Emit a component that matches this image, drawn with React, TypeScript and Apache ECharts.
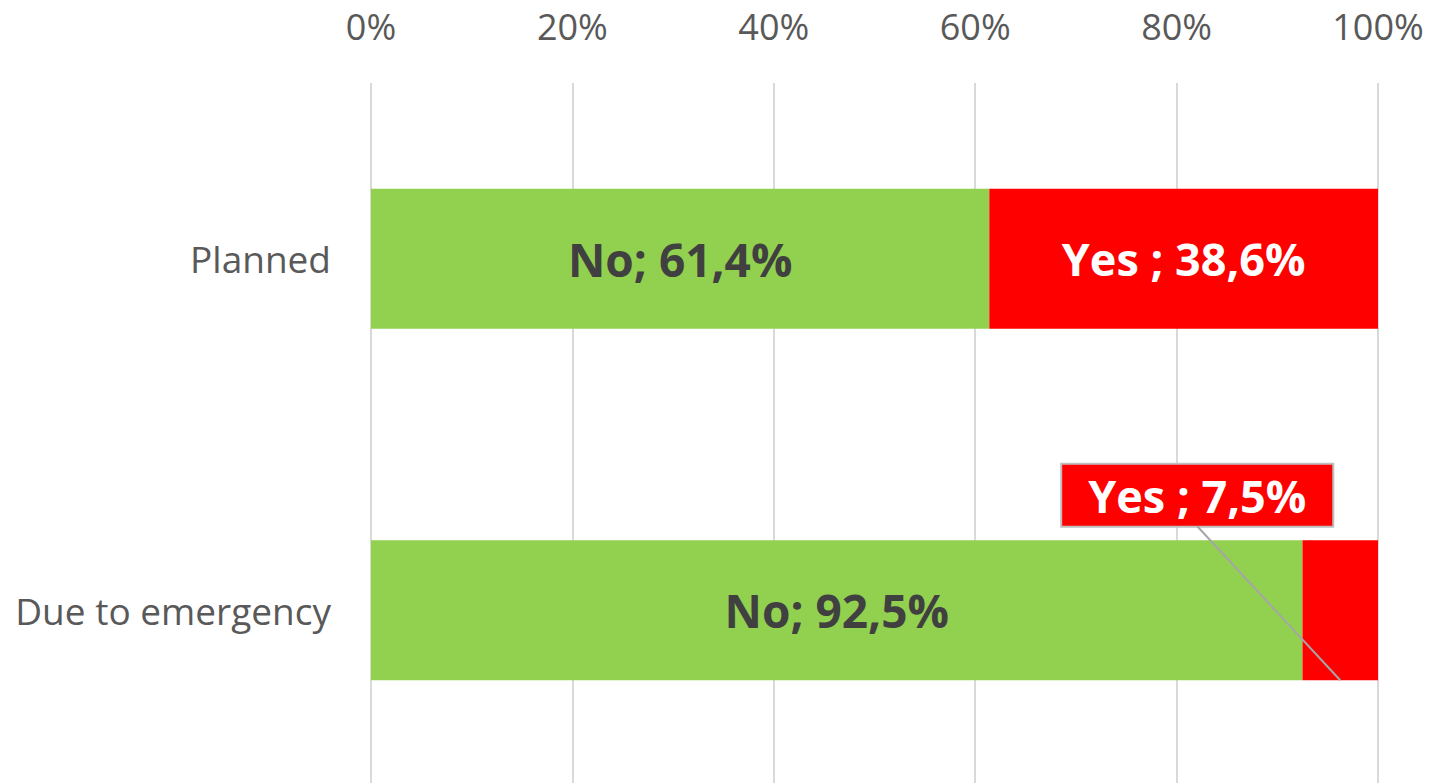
import React, { useEffect, useRef } from "react";
import * as echarts from "echarts";

const categories = ["Planned", "Due to emergency"];
const noValues = [61.4, 92.5];
const yesValues = [38.6, 7.5];
const xTicks = [0, 20, 40, 60, 80, 100];

const fmt = (v: number) => v.toFixed(1).replace(".", ",");

export default function App() {
  const ref = useRef<HTMLDivElement>(null);
  useEffect(() => {
    if (!ref.current) return;
    const chart = echarts.init(ref.current, undefined, { renderer: "svg" });
    const font = "'Open Sans', sans-serif";
    const option: any = {
      animation: false,
      grid: { left: 371, right: 63, top: 83, height: 703, containLabel: false },
      xAxis: {
        type: "value",
        position: "top",
        min: xTicks[0],
        max: xTicks[xTicks.length - 1],
        interval: 20,
        axisLine: { show: false },
        axisTick: { show: false },
        splitLine: { show: true, lineStyle: { color: "#d9d9d9", width: 2 } },
        axisLabel: {
          formatter: (v: number) => v + "%",
          color: "#595959",
          fontSize: 36,
          fontFamily: font,
          margin: 39,
        },
      },
      yAxis: {
        type: "category",
        data: categories,
        inverse: true,
        axisLine: { show: false },
        axisTick: { show: false },
        axisLabel: { color: "#595959", fontSize: 37, fontFamily: font, margin: 40 },
      },
      series: [
        {
          name: "No",
          type: "bar",
          stack: "total",
          barWidth: 140,
          itemStyle: { color: "#92D050" },
          label: {
            show: true,
            position: "inside",
            formatter: (p: any) => "No; " + fmt(p.value) + "%",
            color: "#404040",
            fontWeight: "bold",
            fontSize: 46,
            fontFamily: font,
          },
          data: noValues,
        },
        {
          name: "Yes",
          type: "bar",
          stack: "total",
          barWidth: 140,
          itemStyle: { color: "#FF0000" },
          data: yesValues.map((v, i) =>
            i === 1
              ? {
                  value: v,
                  label: {
                    show: true,
                    position: "inside",
                    offset: [-143, -115],
                    formatter: (p: any) => "Yes ; " + fmt(p.value) + "%",
                    color: "#ffffff",
                    fontWeight: "bold",
                    fontSize: 45,
                    fontFamily: font,
                    backgroundColor: "#FF0000",
                    borderColor: "#bfbfbf",
                    borderWidth: 2,
                    padding: [3, 26, 3, 26],
                    lineHeight: 55,
                  },
                }
              : v
          ),
          label: {
            show: true,
            position: "inside",
            formatter: (p: any) => "Yes ; " + fmt(p.value) + "%",
            color: "#ffffff",
            fontWeight: "bold",
            fontSize: 45,
            fontFamily: font,
          },
        },
      ],
    };
    chart.setOption(option);
    // leader line from the moved label to the small segment
    const segCenter = noValues[1] + yesValues[1] / 2;
    const endPt = chart.convertToPixel({ xAxisIndex: 0, yAxisIndex: 0 } as any, [segCenter, categories[1]]) as number[];
    const startX = endPt[0] - 143;
    const startY = endPt[1] - 115 + 31;
    const endY = endPt[1] + 70;
    chart.setOption({
      graphic: [
        {
          type: "line",
          z: 100,
          shape: { x1: startX, y1: startY, x2: endPt[0], y2: endY },
          style: { stroke: "#a6a6a6", lineWidth: 2 },
        },
      ],
    });
    return () => chart.dispose();
  }, []);
  return (
    <div
      ref={ref}
      style={{ position: "fixed", left: 0, top: 0, width: 1441, height: 800, background: "#fff" }}
    />
  );
}
